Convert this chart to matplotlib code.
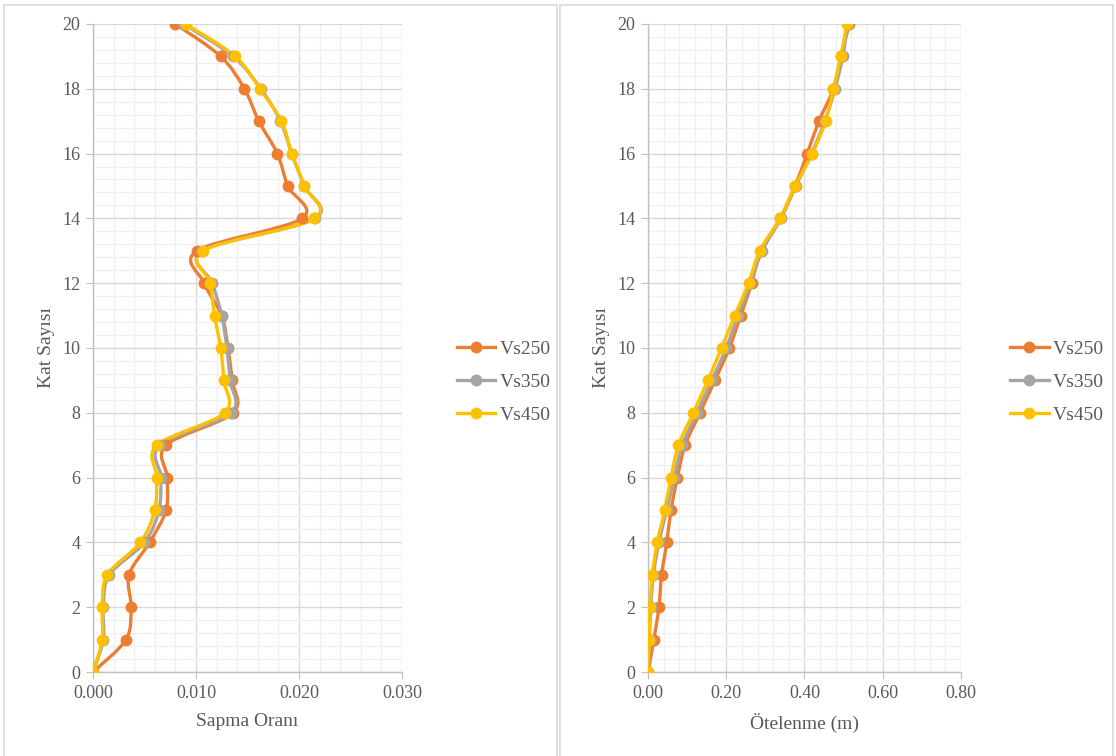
import numpy as np
import matplotlib
matplotlib.use("Agg")
import matplotlib.pyplot as plt
from matplotlib.path import Path
from matplotlib.patches import PathPatch, Rectangle
from matplotlib.lines import Line2D
from matplotlib.ticker import MultipleLocator, FormatStrFormatter

plt.rcParams['font.family'] = ['Liberation Serif', 'DejaVu Serif']

# kat numaralari
katlar = list(range(21))
seriler = ["Vs250", "Vs350", "Vs450"]
renkler = ["#ED7D31", "#A5A5A5", "#FFC000"]

# Sapma orani
sapma_vs250 = [0.0, 0.0032, 0.0037, 0.0035, 0.0055, 0.0071, 0.0072, 0.0071, 0.0136, 0.0135,
               0.0131, 0.0125, 0.0108, 0.0101, 0.0203, 0.0189, 0.0179, 0.0161, 0.0147, 0.0124, 0.0080]
sapma_vs350 = [0.0, 0.0010, 0.0010, 0.0016, 0.0050, 0.0064, 0.0066, 0.0065, 0.0134, 0.0133,
               0.0130, 0.0125, 0.0116, 0.0106, 0.0216, 0.0205, 0.0193, 0.0182, 0.0163, 0.0136, 0.0088]
sapma_vs450 = [0.0, 0.0009, 0.0009, 0.0014, 0.0046, 0.0060, 0.0062, 0.0062, 0.0128, 0.0127,
               0.0124, 0.0118, 0.0114, 0.0107, 0.0215, 0.0205, 0.0193, 0.0183, 0.0162, 0.0138, 0.0090]

# Otelenme (m)
otel_vs250 = [0.0, 0.015, 0.028, 0.035, 0.048, 0.059, 0.075, 0.095, 0.133, 0.171,
              0.208, 0.237, 0.265, 0.288, 0.338, 0.376, 0.407, 0.437, 0.474, 0.493, 0.515]
otel_vs350 = [0.0, 0.004, 0.007, 0.014, 0.028, 0.048, 0.067, 0.088, 0.125, 0.163,
              0.200, 0.230, 0.262, 0.292, 0.340, 0.378, 0.418, 0.452, 0.478, 0.498, 0.510]
otel_vs450 = [0.0, 0.003, 0.005, 0.011, 0.024, 0.043, 0.059, 0.078, 0.116, 0.153,
              0.188, 0.222, 0.257, 0.286, 0.338, 0.376, 0.420, 0.454, 0.474, 0.493, 0.508]


def egri(ax, x, y, renk):
    # Excel tarzi yumusatilmis cizgi (bezier)
    p = np.column_stack([x, y]).astype(float)
    n = len(p)
    verts = [p[0]]
    codes = [Path.MOVETO]
    for i in range(n - 1):
        p0 = p[i - 1] if i > 0 else p[i]
        p3 = p[i + 2] if i + 2 < n else p[i + 1]
        c1 = p[i] + (p[i + 1] - p0) / 6.0
        c2 = p[i + 1] - (p3 - p[i]) / 6.0
        verts += [c1, c2, p[i + 1]]
        codes += [Path.CURVE4] * 3
    ax.add_patch(PathPatch(Path(verts, codes), fill=False, edgecolor=renk,
                           lw=2.4, capstyle='round', joinstyle='round', zorder=3))
    ax.plot(x, y, linestyle='none', marker='o', ms=7.5, color=renk, zorder=4)


def grafik(ax, veriler, xmax, xmaj, fmt, xlabel, lx):
    for v, r in zip(veriler, renkler):
        egri(ax, v, katlar, r)
    ax.set_xlim(0, xmax)
    ax.set_ylim(0, 20)
    ax.xaxis.set_major_locator(MultipleLocator(xmaj))
    ax.xaxis.set_minor_locator(MultipleLocator(xmaj / 5))
    ax.yaxis.set_major_locator(MultipleLocator(2))
    ax.yaxis.set_minor_locator(MultipleLocator(0.4))
    ax.xaxis.set_major_formatter(FormatStrFormatter(fmt))
    ax.grid(which='major', color='#D9D9D9', lw=1.0, zorder=0)
    ax.grid(which='minor', color='#F0F0F0', lw=1.0, zorder=0)
    ax.set_axisbelow(True)
    for s in ['top', 'right']:
        ax.spines[s].set_visible(False)
    for s in ['left', 'bottom']:
        ax.spines[s].set_color('#BFBFBF')
        ax.spines[s].set_linewidth(1.0)
    ax.tick_params(which='major', length=5, color='#BFBFBF', labelcolor='#595959',
                   labelsize=13, pad=4)
    ax.tick_params(which='minor', length=0)
    ax.set_xlabel(xlabel, color='#595959', fontsize=14, labelpad=8)
    ax.set_ylabel("Kat Sayısı", color='#595959', fontsize=14, labelpad=5)
    handles = [Line2D([], [], color=r, lw=2.4, marker='o', ms=7.5) for r in renkler]
    ax.legend(handles, seriler, loc='center left', bbox_to_anchor=(lx, 0.447),
              frameon=False, fontsize=14, labelcolor='#595959', handlelength=2.0,
              handletextpad=0.2, labelspacing=0.8)


fig = plt.figure(figsize=(11.16, 7.56), dpi=100)
fig.patches.append(Rectangle((0.004, -0.01), 0.495, 1.003, transform=fig.transFigure,
                             fill=False, edgecolor='#D9D9D9', lw=1.2))
fig.patches.append(Rectangle((0.502, -0.01), 0.495, 1.003, transform=fig.transFigure,
                             fill=False, edgecolor='#D9D9D9', lw=1.2))

ax1 = fig.add_axes([0.0833, 0.1111, 0.2769, 0.8572])
ax2 = fig.add_axes([0.5806, 0.1111, 0.2805, 0.8572])

grafik(ax1, [sapma_vs250, sapma_vs350, sapma_vs450], 0.030, 0.010, '%.3f', "Sapma Oranı", 1.12)
grafik(ax2, [otel_vs250, otel_vs350, otel_vs450], 0.80, 0.20, '%.2f', "Ötelenme (m)", 1.10)

fig.savefig("out.png", dpi=100)
